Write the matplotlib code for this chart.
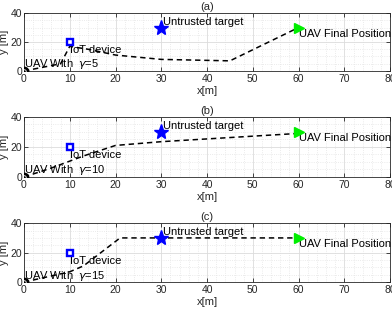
import matplotlib.pyplot as plt
from matplotlib.ticker import MultipleLocator

plt.rcParams['font.family'] = ['Liberation Sans', 'DejaVu Sans']

# trajectories for each gamma
x_a = [0, 8, 10, 14, 20, 30, 45, 60]
y_a = [0, 5, 17, 15, 11, 8, 7, 30]
x_b = [0, 6, 13, 20, 30, 60]
y_b = [0, 6, 14, 21, 23.5, 29]
x_c = [0, 10, 13, 21, 30, 60]
y_c = [0, 7, 11, 30, 30, 30]

paths = [(x_a, y_a), (x_b, y_b), (x_c, y_c)]
titles = ['(a)', '(b)', '(c)']
gammas = ['5', '10', '15']

iot = (10, 20)
target = (30, 30)
final = (60, 30)

fig = plt.figure(figsize=(3.92, 3.10), dpi=100)
boxes = [[0.0612, 0.771, 0.934, 0.187],
         [0.0612, 0.429, 0.934, 0.194],
         [0.0612, 0.090, 0.934, 0.190]]

for k in range(3):
    ax = fig.add_axes(boxes[k])
    px, py = paths[k]
    ax.plot(px, py, 'k--', lw=1.1, dashes=(3.5, 2.5), zorder=3)
    ax.plot(0, 0, 'o', mfc='k', mec='k', ms=6, zorder=4)
    ax.plot(0, 0, 'o', mfc='none', mec='w', ms=2.5, mew=0.6, zorder=5)
    ax.plot(*iot, 's', mfc='w', mec='b', ms=4.8, mew=1.7, zorder=4)
    ax.plot(*target, '*', color='b', ms=11, zorder=4)
    ax.plot(*final, '>', color='#00ee00', ms=7, zorder=4)

    ax.text(0, -0.3, 'UAV With  $\\gamma$=' + gammas[k], fontsize=8, va='bottom', ha='left')
    ax.text(iot[0], iot[1] - 2, 'IoT device', fontsize=8, va='top', ha='left')
    ax.text(target[0] + 0.3, target[1] + 0.5, 'Untrusted target', fontsize=8, va='bottom', ha='left')
    ax.text(final[0], final[1] - 1, 'UAV Final Position', fontsize=8, va='top', ha='left')

    ax.set_xlim(0, 80)
    ax.set_ylim(0, 40)
    ax.xaxis.set_major_locator(MultipleLocator(10))
    ax.xaxis.set_minor_locator(MultipleLocator(2))
    ax.yaxis.set_major_locator(MultipleLocator(20))
    ax.yaxis.set_minor_locator(MultipleLocator(5))
    ax.grid(True, which='major', color='#dcdcdc', lw=0.6)
    ax.grid(True, which='minor', color='#e4e4e4', ls=':', lw=0.6)
    ax.set_axisbelow(True)
    ax.tick_params(which='both', direction='in', top=True, right=True,
                   labelsize=7.5, colors='#262626', length=3, width=0.6, pad=2)
    ax.tick_params(axis='y', pad=1.5)
    ax.tick_params(which='minor', length=0)
    for s in ax.spines.values():
        s.set_color('#262626')
        s.set_linewidth(0.6)
    ax.set_title(titles[k], fontsize=8, pad=2, color='#262626')
    ax.set_xlabel('x[m]', fontsize=8, labelpad=1.5, color='#262626')
    ax.set_ylabel('y [m]', fontsize=8, color='#262626')
    ax.yaxis.set_label_coords(-0.042, 0.5)

fig.savefig('out.png', dpi=100)
